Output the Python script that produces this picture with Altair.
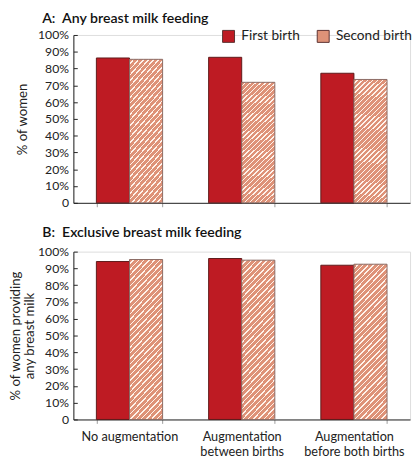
import altair as alt
import pandas as pd

categories = ["No augmentation", "Augmentation\nbetween births", "Augmentation\nbefore both births"]
births = ["First birth", "Second birth"]
any_first = [86.3, 86.7, 77.2]
any_second = [85.5, 71.8, 73.5]
excl_first = [94.1, 95.9, 91.9]
excl_second = [95.3, 94.9, 92.5]
y_ticks = [0, 10, 20, 30, 40, 50, 60, 70, 80, 90, 100]

RED = "#BE1B23"
SALMON = "#DE9278"
STRIPE = "#FFF3EC"
FONT = "Lato"
W = 345
H = 172


def hatch(n, ratio):
    # diagonal stripes made from a hard-stop linear gradient (bounding-box units)
    b = (1 + ratio) / (1 + ratio * ratio)
    a = ratio * b
    stops = []
    for k in range(n):
        o0 = k / n
        o1 = (k + 0.72) / n
        o2 = (k + 1) / n
        stops += [
            alt.GradientStop(offset=o0, color=SALMON),
            alt.GradientStop(offset=o1, color=SALMON),
            alt.GradientStop(offset=o1, color=STRIPE),
            alt.GradientStop(offset=o2, color=STRIPE),
        ]
    return alt.Gradient(gradient="linear", stops=stops, x1=0, y1=0, x2=a, y2=b)


def make_df(first, second):
    rows = []
    for c, f, s in zip(categories, first, second):
        rows.append({"cat": c, "birth": births[0], "value": f})
        rows.append({"cat": c, "birth": births[1], "value": s})
    return pd.DataFrame(rows)


def panel(first, second, title, ytitle, show_labels, show_legend, n_stripes, ratio,
          ytitle_pad, title_offset):
    df = make_df(first, second)
    x = alt.X(
        "cat:N",
        sort=categories,
        title=None,
        scale=alt.Scale(paddingInner=0.41, paddingOuter=0.205),
        axis=alt.Axis(
            labels=show_labels,
            labelExpr="split(datum.label, '\\n')",
            labelFontSize=13,
            labelColor="#222",
            labelPadding=8,
            labelLineHeight=15,
            labelAngle=0,
            tickBand="extent",
            ticks=True,
            tickSize=4,
            tickColor="#9a9a9a",
            domainColor="#222",
            grid=False,
        ),
    )
    xo = alt.XOffset("birth:N", scale=alt.Scale(domain=births, paddingInner=0, paddingOuter=0))
    y = alt.Y(
        "value:Q",
        title=ytitle,
        scale=alt.Scale(domain=[0, 100], nice=False),
        axis=alt.Axis(
            values=y_ticks,
            labelExpr="datum.value == 0 ? '0' : datum.value + '%'",
            labelFontSize=12.5,
            labelColor="#222",
            labelPadding=5,
            ticks=False,
            grid=True,
            gridColor="#222",
            gridWidth=1,
            gridDash=[4, 2000],
            domainColor="#222",
            titleFontSize=13.5,
            titleFontWeight="normal",
            titleColor="#222",
            titlePadding=ytitle_pad,
            titleLineHeight=14,
        ),
    )
    if show_legend:
        legend = alt.Legend(
            orient="none",
            legendX=152,
            legendY=-6,
            direction="horizontal",
            title=None,
            symbolType="square",
            symbolSize=150,
            symbolStrokeColor="#5a3030",
            symbolStrokeWidth=1,
            labelFontSize=14,
            labelColor="#222",
            labelOffset=6,
            columnPadding=14,
            padding=0,
        )
    else:
        legend = None
    color = alt.Color("birth:N", scale=alt.Scale(domain=births, range=[RED, SALMON]), legend=legend)
    base = alt.Chart(df)
    l1 = base.transform_filter(alt.datum.birth == births[0]).mark_bar(
        stroke="#5e1a1a", strokeWidth=1
    ).encode(x=x, xOffset=xo, y=y, color=color)
    l2 = base.transform_filter(alt.datum.birth == births[1]).mark_bar(
        fill=hatch(n_stripes, ratio), stroke="#8a6a64", strokeWidth=1
    ).encode(x=x, xOffset=xo, y=y)
    return alt.layer(l1, l2).properties(
        width=W,
        height=H,
        title=alt.TitleParams(
            text=title,
            anchor="start",
            frame="group",
            dx=-32,
            fontSize=14.5,
            fontWeight=600,
            color="#111",
            font=FONT,
            offset=title_offset,
        ),
    )


pa = panel(any_first, any_second, "A:\u00a0 Any breast milk feeding", "% of women",
           False, True, 32, 35 / 135, 8, 3)
pb = panel(excl_first, excl_second, "B:\u00a0 Exclusive breast milk feeding",
           ["% of women providing", "any breast milk"], True, False, 35, 35 / 160, 1, 6)

chart = alt.vconcat(pa, pb, spacing=15).properties(
    padding={"left": 0, "top": -3, "right": 0, "bottom": 0}
).configure_view(stroke=None).configure(font=FONT).configure_axis(
    labelFont=FONT, titleFont=FONT
).configure_legend(labelFont=FONT)

chart.save("out.html", embed_options={"renderer": "svg", "actions": False})
